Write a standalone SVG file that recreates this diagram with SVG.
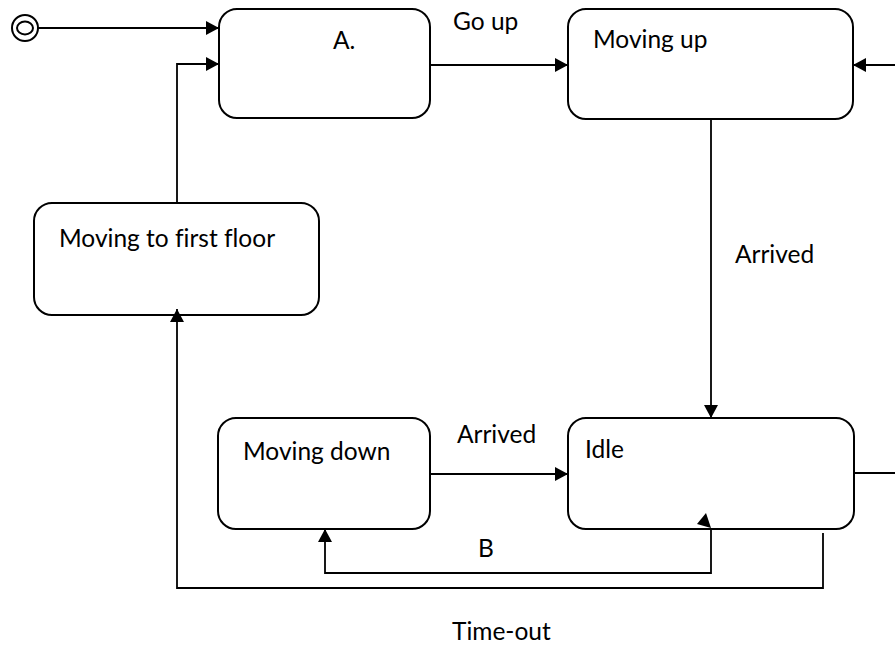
<svg xmlns="http://www.w3.org/2000/svg" width="895" height="650" viewBox="0 0 895 650">
  <style>
    .state { fill: #ffffff; stroke: #000000; stroke-width: 2; }
    .label { font-family: Lato, "Liberation Sans", sans-serif; font-size: 24.5px; fill: #000000; font-variant-ligatures: none; }
    .wire { fill: none; stroke: #000000; stroke-width: 1.8; }
    .head { fill: #000000; }
  </style>
  <defs>
    <marker id="arrow" markerWidth="13" markerHeight="14" refX="13" refY="7" orient="auto" markerUnits="userSpaceOnUse">
      <path d="M0,0 L13,7 L0,14 z" fill="#000000"/>
    </marker>
  </defs>

  <rect width="895" height="650" fill="#ffffff"/>

  <!-- initial pseudo-state -->
  <g id="start">
    <ellipse cx="25" cy="28" rx="13" ry="13" fill="none" stroke="#000" stroke-width="2"/>
    <ellipse cx="25" cy="28" rx="8" ry="6.5" fill="none" stroke="#000" stroke-width="2"/>
  </g>

  <g id="state-a">
    <rect class="state" x="219" y="9" width="211" height="109" rx="18"/>
    <text class="label" x="333" y="49">A.</text>
  </g>

  <g id="state-moving-up">
    <rect class="state" x="568" y="9" width="285" height="110" rx="18"/>
    <text class="label" x="593" y="48">Moving up</text>
  </g>

  <g id="state-first-floor">
    <rect class="state" x="34" y="203" width="285" height="112" rx="18"/>
    <text class="label" x="59" y="247">Moving to first floor</text>
  </g>

  <g id="state-moving-down">
    <rect class="state" x="218" y="418" width="212" height="111" rx="18"/>
    <text class="label" x="243" y="460">Moving down</text>
  </g>

  <g id="state-idle">
    <rect class="state" x="568" y="418" width="286" height="111" rx="18"/>
    <text class="label" x="585" y="458">Idle</text>
  </g>

  <g id="connectors">
    <!-- start to A -->
    <path class="wire" d="M38,28 H219" marker-end="url(#arrow)"/>
    <!-- first floor back to A -->
    <path class="wire" d="M177,203 V64 H219" marker-end="url(#arrow)"/>
    <!-- A to Moving up -->
    <path class="wire" d="M430,65 H568" marker-end="url(#arrow)"/>
    <text class="label" x="453" y="30">Go up</text>
    <!-- incoming from the right edge -->
    <path class="wire" d="M895,65 H853" marker-end="url(#arrow)"/>
    <!-- Moving up to Idle -->
    <path class="wire" d="M711,119 V418" marker-end="url(#arrow)"/>
    <text class="label" x="735" y="263">Arrived</text>
    <!-- Moving down to Idle -->
    <path class="wire" d="M430,474 H568" marker-end="url(#arrow)"/>
    <text class="label" x="457" y="443">Arrived</text>
    <!-- Idle outgoing to the right edge -->
    <path class="wire" d="M854,473 H895"/>
    <!-- B loop -->
    <path class="wire" d="M711,529 V573 H325 V529" marker-end="url(#arrow)"/>
    <polygon class="head" points="697,524 706,513 711,528"/>
    <text class="label" x="478" y="557">B</text>
    <!-- Time-out loop -->
    <path class="wire" d="M823,533 V588 H177 V309" marker-end="url(#arrow)"/>
    <text class="label" x="452" y="640">Time-out</text>
  </g>
</svg>
